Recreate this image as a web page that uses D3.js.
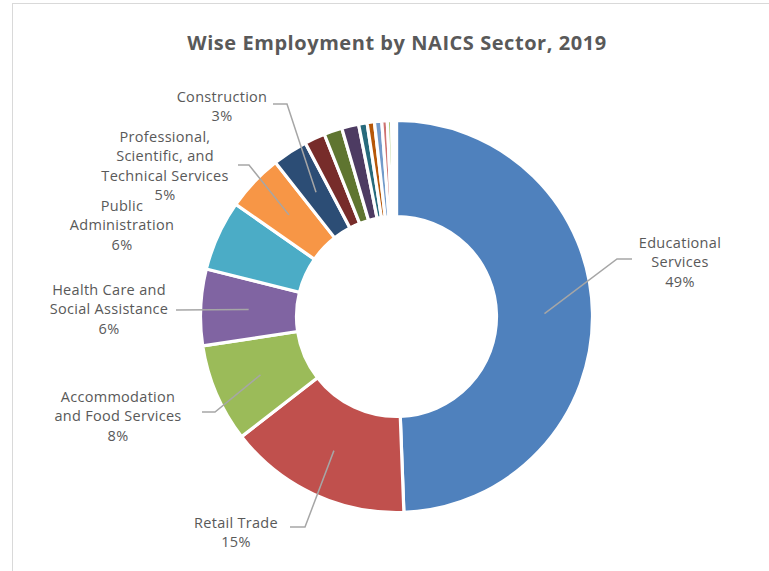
<!DOCTYPE html>
<html>
<head>
<meta charset="utf-8">
<script src="https://cdn.jsdelivr.net/npm/d3@7"></script>
<style>
  html, body { margin: 0; padding: 0; background: #fff; }
  svg { display: block; }
  text { font-family: "Open Sans", Lato, sans-serif; }
</style>
</head>
<body>
<svg id="chart" width="769" height="571"></svg>
<script>
// Employment share by NAICS sector (percent of total)
const sectors = [
  "Educational Services",
  "Retail Trade",
  "Accommodation and Food Services",
  "Health Care and Social Assistance",
  "Public Administration",
  "Professional, Scientific, and Technical Services",
  "Construction",
  "Manufacturing",
  "Other Services",
  "Finance and Insurance",
  "Transportation and Warehousing",
  "Arts, Entertainment, and Recreation",
  "Wholesale Trade",
  "Real Estate and Rental and Leasing",
  "Information",
  "Administrative and Support Services",
  "Utilities"
];
const shares = [49.4, 15.1, 8.1, 6.3, 5.8, 4.7, 2.9, 1.7, 1.5, 1.4, 0.7, 0.6, 0.6, 0.45, 0.35, 0.25, 0.15];

// Wrapped label lines for the labelled sectors
const labelLines = {
  "Educational Services": ["Educational", "Services"],
  "Retail Trade": ["Retail Trade"],
  "Accommodation and Food Services": ["Accommodation", "and Food Services"],
  "Health Care and Social Assistance": ["Health Care and", "Social Assistance"],
  "Public Administration": ["Public", "Administration"],
  "Professional, Scientific, and Technical Services": ["Professional,", "Scientific, and", "Technical Services"],
  "Construction": ["Construction"]
};

const palette = [
  "#4F81BD", "#C0504D", "#9BBB59", "#8064A2", "#4BACC6", "#F79646",
  "#2C4D75", "#772C2A", "#5F7530", "#4D3B62", "#276A7C", "#B65708",
  "#729ACA", "#CD7371", "#AFC97A", "#9983B5", "#6FBDD1"
];

// Label placement: text block centre and where the leader line meets it
const labelLayout = {
  "Educational Services": { x: 680, y: 243, lineEnd: [632, 259], elbow: 15 },
  "Retail Trade": { x: 236, y: 523, lineEnd: [290, 527], elbow: -15 },
  "Accommodation and Food Services": { x: 118, y: 397, lineEnd: [202, 412], elbow: -13 },
  "Health Care and Social Assistance": { x: 109, y: 290, lineEnd: [176, 310], elbow: 0 },
  "Public Administration": { x: 122, y: 206, lineEnd: null },
  "Professional, Scientific, and Technical Services": { x: 165, y: 137, lineEnd: [238, 165], elbow: -11 },
  "Construction": { x: 222, y: 97, lineEnd: [273, 104], elbow: -14 }
};

const svg = d3.select("#chart");
const W = 769, H = 571;
const cx = 396.5, cy = 316.5;
const outerR = 196, innerR = 100;
const lineGap = 19.3;

// Chart area border
svg.append("rect")
  .attr("x", 12.5).attr("y", 3.5)
  .attr("width", W + 10).attr("height", H + 10)
  .attr("fill", "#fff")
  .attr("stroke", "#D9D9D9").attr("stroke-width", 1);

// Title
svg.append("text")
  .attr("x", 397).attr("y", 50)
  .attr("text-anchor", "middle")
  .attr("font-size", 20)
  .attr("font-weight", 700)
  .attr("letter-spacing", 0.55)
  .attr("fill", "#595959")
  .text("Wise Employment by NAICS Sector, 2019");

const data = sectors.map((s, i) => ({ sector: s, share: shares[i], color: palette[i] }));
const total = d3.sum(shares);

const pie = d3.pie().sort(null).value(d => d.share).startAngle(0).endAngle(2 * Math.PI);
const arcs = pie(data);
const arc = d3.arc().innerRadius(innerR).outerRadius(outerR);

const g = svg.append("g").attr("transform", `translate(${cx},${cy})`);

g.selectAll("path.slice")
  .data(arcs)
  .join("path")
  .attr("class", "slice")
  .attr("d", arc)
  .attr("fill", d => d.data.color)
  .attr("stroke", "#fff")
  .attr("stroke-width", 3.2)
  .attr("stroke-linejoin", "miter");

// Leader lines and labels
const labelled = arcs.filter(d => labelLines[d.data.sector]);

labelled.forEach(d => {
  const lay = labelLayout[d.data.sector];
  const [sx, sy] = arc.centroid(d);
  if (lay.lineEnd) {
    const ex = lay.lineEnd[0] - cx, ey = lay.lineEnd[1] - cy;
    const pts = [[sx, sy], [ex - lay.elbow, ey], [ex, ey]];
    g.append("path")
      .attr("d", d3.line()(pts))
      .attr("fill", "none")
      .attr("stroke", "#A6A6A6")
      .attr("stroke-width", 1.5);
  }
  const lines = labelLines[d.data.sector].concat([Math.round(d.data.share / total * 100) + "%"]);
  const t = svg.append("text")
    .attr("text-anchor", "middle")
    .attr("font-size", 14.5)
    .attr("letter-spacing", 0.3)
    .attr("fill", "#595959");
  lines.forEach((ln, i) => {
    t.append("tspan")
      .attr("x", lay.x)
      .attr("y", lay.y + i * lineGap)
      .attr("dy", "0.35em")
      .text(ln);
  });
});
</script>
</body>
</html>
